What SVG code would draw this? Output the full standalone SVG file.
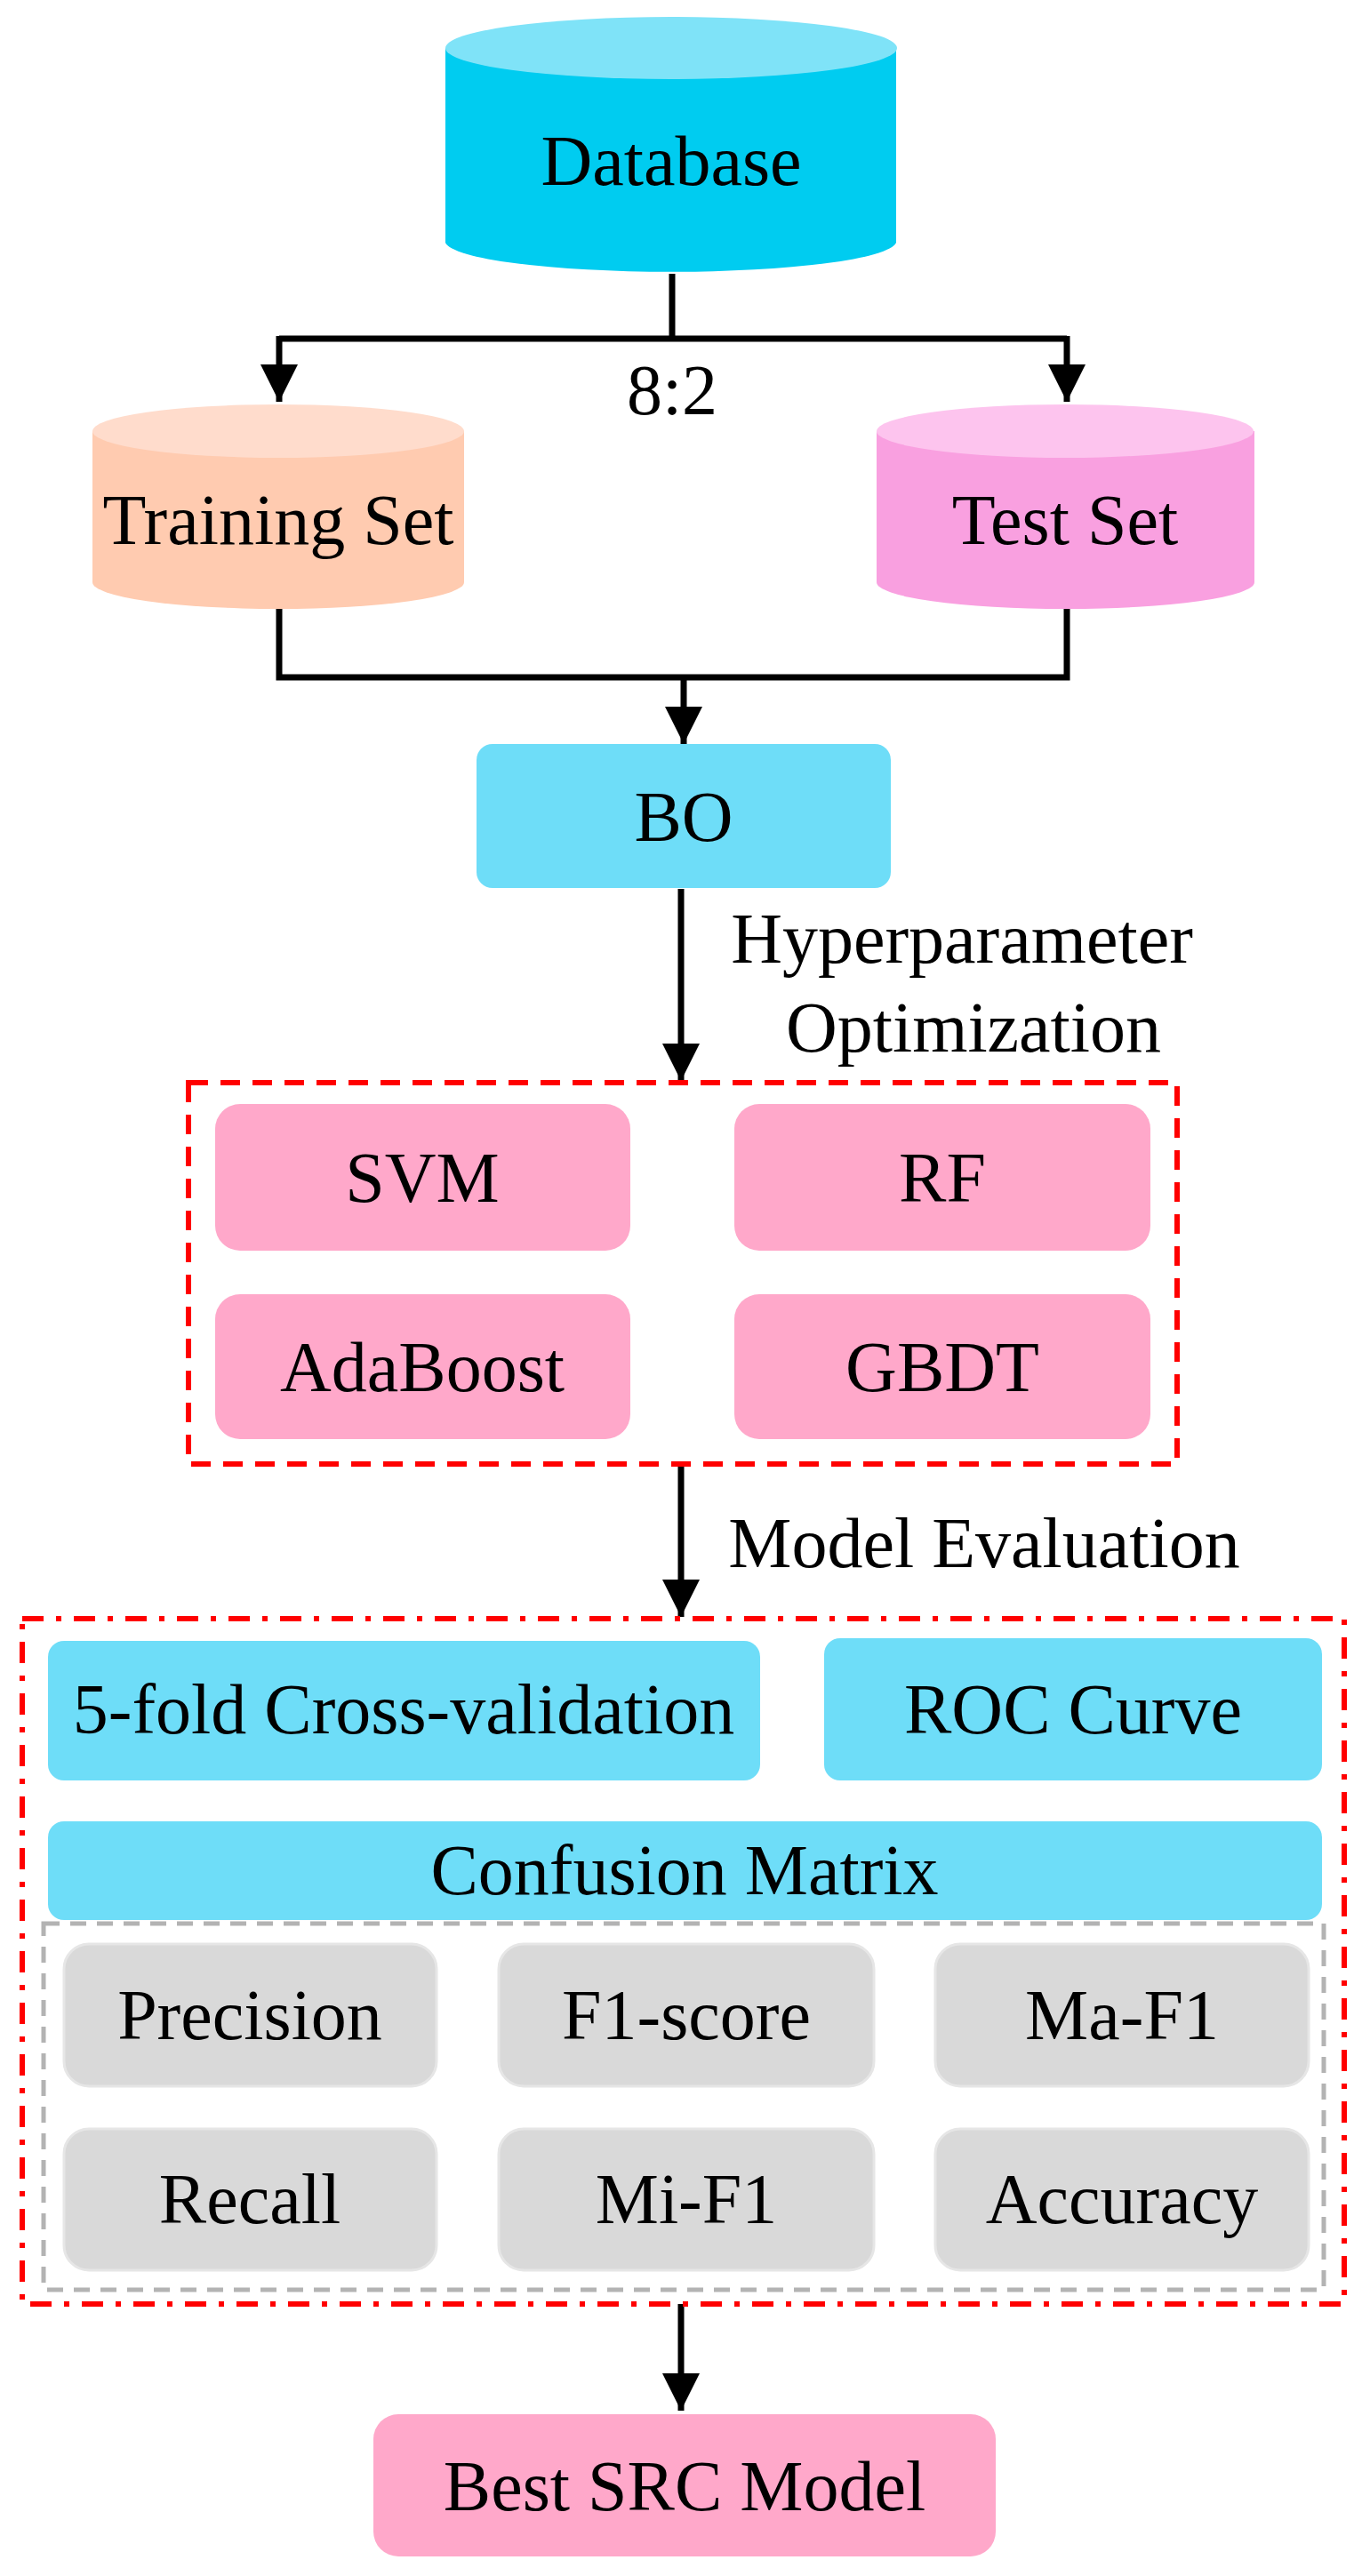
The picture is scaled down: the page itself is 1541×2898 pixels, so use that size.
<svg xmlns="http://www.w3.org/2000/svg" width="1541" height="2898" viewBox="0 0 1541 2898">
<defs>
<style>
text{font-family:"Liberation Serif","Times New Roman",serif;font-size:80px;fill:#000;text-anchor:middle}
.ln{fill:none;stroke:#000;stroke-width:7}
.pink{fill:#FFA8CA}
.blue{fill:#6EDDF8}
.gray{fill:#D9D9D9;stroke:#E6E6E6;stroke-width:3}
</style>
<marker id="ah" viewBox="0 0 10 10" refX="10" refY="5" markerWidth="6" markerHeight="6" markerUnits="strokeWidth" orient="auto"><path d="M0,0L10,5L0,10z" fill="#000"/></marker>
</defs>
<rect width="1541" height="2898" fill="#fff"/>
<g id="connectors">
<path class="ln" d="M756,308V381"/>
<path class="ln" d="M314,381H1200" />
<path class="ln" d="M314,378V452" marker-end="url(#ah)"/>
<path class="ln" d="M1200,378V452" marker-end="url(#ah)"/>
<path class="ln" d="M314,685V762H1200V685"/>
<path class="ln" d="M769,762V837" marker-end="url(#ah)"/>
<path class="ln" d="M766,1000V1216" marker-end="url(#ah)"/>
<path class="ln" d="M766,1647V1819" marker-end="url(#ah)"/>
<path class="ln" d="M766,2592V2712" marker-end="url(#ah)"/>
<text x="756" y="466">8:2</text>
<text x="1082" y="1083">Hyperparameter</text>
<text x="1095" y="1183">Optimization</text>
<text x="1107" y="1763">Model Evaluation</text>
</g>
<g id="database">
<path d="M501,54V273A254,35 0 0 0 1008,273V54z" fill="#00CCF0"/>
<ellipse cx="755" cy="54" rx="254" ry="35" fill="#7FE3F8"/>
<text x="755" y="208">Database</text>
</g>
<g id="training">
<path d="M104,485V655A209,30 0 0 0 522,655V485z" fill="#FFCBB0"/>
<ellipse cx="313" cy="485" rx="209" ry="30" fill="#FFDCCC"/>
<text x="313" y="612">Training Set</text>
</g>
<g id="test">
<path d="M986,485V655A212,30 0 0 0 1411,655V485z" fill="#F9A0E0"/>
<ellipse cx="1198" cy="485" rx="212" ry="30" fill="#FDC4EE"/>
<text x="1198" y="612">Test Set</text>
</g>
<g id="bo"><rect class="blue" x="536" y="837" width="466" height="162" rx="18"/><text x="769" y="946">BO</text></g>
<g id="models">
<rect x="212" y="1218" width="1112" height="429" fill="none" stroke="#FF0000" stroke-width="6" stroke-dasharray="22,14"/>
<g id="svm"><rect class="pink" x="242" y="1242" width="467" height="165" rx="28"/><text x="475" y="1352">SVM</text></g>
<g id="rf"><rect class="pink" x="826" y="1242" width="468" height="165" rx="28"/><text x="1060" y="1352">RF</text></g>
<g id="adaboost"><rect class="pink" x="242" y="1456" width="467" height="163" rx="28"/><text x="475" y="1565">AdaBoost</text></g>
<g id="gbdt"><rect class="pink" x="826" y="1456" width="468" height="163" rx="28"/><text x="1060" y="1565">GBDT</text></g>
</g>
<g id="evaluation">
<rect x="25" y="1821" width="1487" height="771" fill="none" stroke="#FF0000" stroke-width="6" stroke-dasharray="24,14,6,14"/>
<g id="cv"><rect class="blue" x="54" y="1846" width="801" height="157" rx="18"/><text x="454" y="1950">5-fold Cross-validation</text></g>
<g id="roc"><rect class="blue" x="927" y="1843" width="560" height="160" rx="18"/><text x="1207" y="1950">ROC Curve</text></g>
<g id="cm"><rect class="blue" x="54" y="2049" width="1433" height="111" rx="18"/><text x="770" y="2131">Confusion Matrix</text></g>
<rect x="49" y="2164" width="1440" height="412" fill="none" stroke="#B3B3B3" stroke-width="5" stroke-dasharray="18,12"/>
<g id="precision"><rect class="gray" x="72" y="2187" width="419" height="160" rx="28"/><text x="281" y="2294">Precision</text></g>
<g id="f1"><rect class="gray" x="561" y="2187" width="422" height="160" rx="28"/><text x="772" y="2294">F1-score</text></g>
<g id="maf1"><rect class="gray" x="1052" y="2187" width="420" height="160" rx="28"/><text x="1262" y="2294">Ma-F1</text></g>
<g id="recall"><rect class="gray" x="72" y="2395" width="419" height="159" rx="28"/><text x="281" y="2501">Recall</text></g>
<g id="mif1"><rect class="gray" x="561" y="2395" width="422" height="159" rx="28"/><text x="772" y="2501">Mi-F1</text></g>
<g id="accuracy"><rect class="gray" x="1052" y="2395" width="420" height="159" rx="28"/><text x="1262" y="2501">Accuracy</text></g>
</g>
<g id="best"><rect class="pink" x="420" y="2716" width="700" height="160" rx="28"/><text x="770" y="2824">Best SRC Model</text></g>
</svg>
